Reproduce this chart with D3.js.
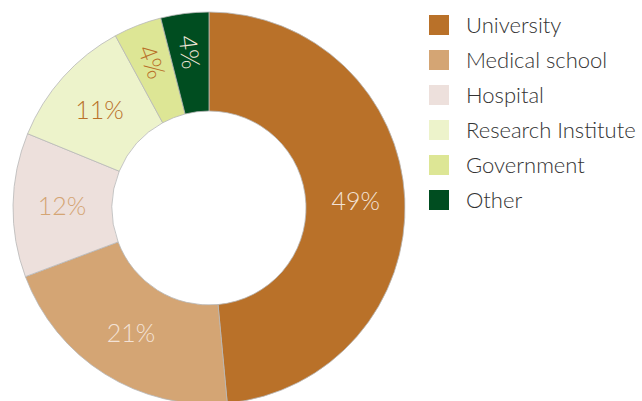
<!DOCTYPE html>
<html><head><meta charset="utf-8">
<script src="https://cdn.jsdelivr.net/npm/d3@7"></script>
<style>body{margin:0;background:#fff}svg{display:block}</style>
</head><body>
<svg id="c" width="642" height="401"></svg>
<script>
const categories = ["University","Medical school","Hospital","Research Institute","Government","Other"];
const values = [49,21,12,11,4,4];
const colors = ["#B97129","#D4A574","#EDE0DC","#EDF3CB","#DDE695","#004D20"];
const labelColors = ["#F3E2D6","#F3E2D6","#D4A574","#B97129","#B97129","#F0E6D8"];
const rotated = [false,false,false,false,true,true];

const svg = d3.select("#c");
const cx = 209, cy = 208, rOuter = 196, rInner = 97;
const data = categories.map((c,i)=>({c, v: values[i], i}));
const pie = d3.pie().value(d=>d.v).sort(null);
const arcs = pie(data);
const arc = d3.arc().innerRadius(rInner).outerRadius(rOuter);
const labelArc = d3.arc().innerRadius(147).outerRadius(147);
const labelArcRot = d3.arc().innerRadius(157).outerRadius(157);

const g = svg.append("g").attr("transform",`translate(${cx},${cy})`);
g.selectAll("path").data(arcs).join("path")
  .attr("d",arc).attr("fill",d=>colors[d.data.i])
  .attr("stroke","#b8b8b8").attr("stroke-width",0.8);

g.selectAll("text").data(arcs).join("text")
  .attr("transform",d=>{
    const rot = rotated[d.data.i];
    const [x,y]=(rot?labelArcRot:labelArc).centroid(d);
    const a=(d.startAngle+d.endAngle)/2*180/Math.PI;
    return rot ? `translate(${x},${y}) rotate(${a-270})` : `translate(${x},${y})`;
  })
  .attr("text-anchor","middle").attr("dy","0.36em")
  .attr("font-family","Lato, 'Open Sans', sans-serif").attr("font-weight",300).attr("font-size",25)
  .attr("fill",d=>labelColors[d.data.i])
  .text(d=>d.data.v+"%");

const lg = svg.append("g");
const rows = lg.selectAll("g").data(categories).join("g")
  .attr("transform",(d,i)=>`translate(429,${15+i*35})`);
rows.append("rect").attr("width",20).attr("height",20).attr("fill",(d,i)=>colors[i]);
rows.append("text").attr("x",37).attr("y",10).attr("dy","0.36em")
  .attr("font-family","Lato, 'Open Sans', sans-serif").attr("font-weight",300).attr("font-size",22)
  .attr("fill","#333").text(d=>d);
</script>
</body></html>
